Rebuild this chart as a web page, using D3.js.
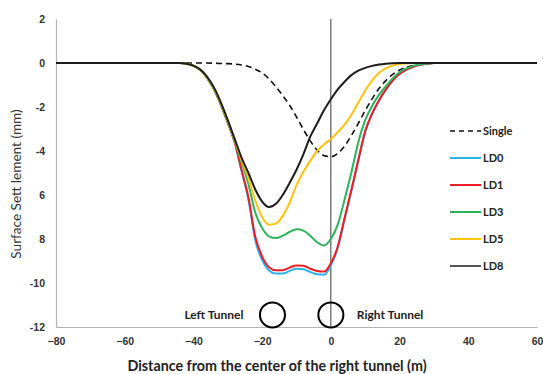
<!DOCTYPE html>
<html>
<head>
<meta charset="utf-8">
<script src="https://cdn.jsdelivr.net/npm/d3@7"></script>
<style>
  html, body { margin: 0; padding: 0; background: #fff; }
  svg { display: block; font-family: Lato, "Open Sans", sans-serif; }
</style>
</head>
<body>
<svg id="chart" width="543" height="374"></svg>
<script>
// Horizontal positions (m from the centre of the right tunnel)
const xs = [-80, -44, -42, -40, -38, -36, -34, -32, -30, -28,
            -26, -24, -22, -20, -18, -16, -14, -12, -10, -8,
            -6, -4, -2, 0, 2, 4, 6, 8, 10, 12,
            14, 16, 18, 20, 22, 24, 26, 28, 30, 60];

// Surface settlement (mm) for each case
const single = [0, 0, 0, 0, 0, 0, -0.01, -0.02, -0.03, -0.05,
                -0.09, -0.16, -0.28, -0.45, -0.72, -1.08, -1.48, -1.92, -2.45, -3.02,
                -3.54, -3.96, -4.21, -4.26, -4.11, -3.77, -3.29, -2.74, -2.16, -1.63,
                -1.16, -0.8, -0.52, -0.32, -0.19, -0.11, -0.06, -0.03, -0.01, 0];
const ld0 = [0, 0, -0.03, -0.13, -0.32, -0.68, -1.2, -1.9, -2.72, -3.6,
             -4.9, -6.2, -8.05, -8.95, -9.43, -9.57, -9.57, -9.45, -9.35, -9.37,
             -9.5, -9.6, -9.62, -9.2, -8.4, -7.1, -5.8, -4.42, -3.12, -2.32,
             -1.71, -1.21, -0.8, -0.5, -0.3, -0.17, -0.08, -0.03, 0, 0];
const ld1 = [0, 0, -0.03, -0.13, -0.32, -0.68, -1.2, -1.9, -2.72, -3.6,
             -4.85, -6.1, -7.9, -8.8, -9.28, -9.42, -9.42, -9.3, -9.2, -9.22,
             -9.35, -9.45, -9.48, -9.1, -8.35, -7.05, -5.75, -4.4, -3.1, -2.3,
             -1.7, -1.2, -0.8, -0.5, -0.3, -0.17, -0.08, -0.03, 0, 0];
const ld3 = [0, 0, -0.03, -0.13, -0.32, -0.68, -1.2, -1.9, -2.7, -3.55,
             -4.5, -5.5, -6.8, -7.5, -7.88, -7.96, -7.85, -7.68, -7.56, -7.62,
             -7.85, -8.15, -8.3, -8.0, -7.35, -6.2, -4.95, -3.6, -2.6, -1.95,
             -1.45, -1.05, -0.7, -0.42, -0.25, -0.13, -0.06, -0.02, 0, 0];
const ld5 = [0, 0, -0.03, -0.12, -0.3, -0.65, -1.15, -1.85, -2.65, -3.5,
             -4.4, -5.25, -6.25, -7.0, -7.35, -7.3, -6.95, -6.35, -5.55, -4.95,
             -4.45, -4.0, -3.7, -3.45, -3.15, -2.8, -2.35, -1.8, -1.25, -0.8,
             -0.45, -0.25, -0.12, -0.05, -0.02, 0, 0, 0, 0, 0];
const ld8 = [0, 0, -0.03, -0.12, -0.3, -0.63, -1.12, -1.8, -2.6, -3.45,
             -4.3, -5.0, -5.75, -6.3, -6.55, -6.4, -6.0, -5.45, -4.85, -4.15,
             -3.35, -2.75, -2.15, -1.65, -1.2, -0.85, -0.55, -0.35, -0.22, -0.13,
             -0.07, -0.03, -0.01, 0, 0, 0, 0, 0, 0, 0];

const seriesNames = ["Single", "LD0", "LD1", "LD3", "LD5", "LD8"];
const seriesValues = [single, ld0, ld1, ld3, ld5, ld8];
const seriesColors = ["#111111", "#2cb2ea", "#ee1d25", "#2fb25c", "#ffc20e", "#1c1c1c"];

// Axis ticks
const xTicks = [-80, -60, -40, -20, 0, 20, 40, 60];
const yTicks = [2, 0, -2, -4, -6, -8, -10, -12];
const yTickLabels = ["2", "0", "-2", "-4", "6", "8", "-10", "-12"];

// Tunnel cross-sections along the ground profile
const tunnelNames = ["Left Tunnel", "Right Tunnel"];
const tunnelX = [-17, 0];
const tunnelDepth = -11.45;

const svg = d3.select("#chart");
const plotL = 56, plotR = 537, plotT = 19, plotB = 327;

const x = d3.scaleLinear().domain([-80, 60]).range([plotL, plotR]);
const y = d3.scaleLinear().domain([-12, 2]).range([plotB, plotT]);

// Axes
const yAxis = d3.axisLeft(y).tickValues(yTicks)
  .tickFormat((d, i) => yTickLabels[i]).tickSize(0).tickPadding(11);
const gy = svg.append("g").attr("transform", `translate(${plotL},0)`).call(yAxis);
gy.select(".domain").attr("stroke", "#b4b4b4").attr("stroke-width", 1.2);
gy.selectAll("text").attr("font-size", 10.5).attr("font-weight", "bold").attr("fill", "#333");

const xAxis = d3.axisBottom(x).tickValues(xTicks).tickSize(0).tickPadding(11);
const gx = svg.append("g").attr("transform", `translate(0,${plotB})`).call(xAxis);
gx.select(".domain").attr("stroke", "#b4b4b4").attr("stroke-width", 1.2);
gx.selectAll("text").attr("font-size", 10.5).attr("font-weight", "bold").attr("fill", "#333");

// Centre line of the right tunnel
svg.append("line")
  .attr("x1", x(0)).attr("x2", x(0))
  .attr("y1", y(2)).attr("y2", y(-12))
  .attr("stroke", "#3a3a3a").attr("stroke-width", 1);

// Settlement troughs
const line = d3.line()
  .x((d, i) => x(xs[i]))
  .y(d => y(d))
  .curve(d3.curveMonotoneX);

seriesValues.forEach((vals, k) => {
  svg.append("path")
    .datum(vals)
    .attr("fill", "none")
    .attr("stroke", seriesColors[k])
    .attr("stroke-width", k === 0 ? 1.6 : 2)
    .attr("stroke-dasharray", k === 0 ? "6,4" : null)
    .attr("stroke-linejoin", "round")
    .attr("d", line);
});

// Legend
const legend = svg.append("g");
seriesNames.forEach((name, k) => {
  const ly = 131 + k * 27;
  legend.append("line")
    .attr("x1", 450).attr("x2", 481).attr("y1", ly).attr("y2", ly)
    .attr("stroke", k === 5 ? "#555" : seriesColors[k])
    .attr("stroke-width", k === 0 ? 1.5 : 2)
    .attr("stroke-dasharray", k === 0 ? "5,4" : null);
  legend.append("text")
    .attr("x", 483).attr("y", ly).attr("dy", "0.35em")
    .attr("font-size", 11).attr("font-weight", "bold").attr("fill", "#222")
    .text(name);
});

// Tunnels
svg.selectAll("circle.tunnel").data(tunnelX).enter().append("circle")
  .attr("class", "tunnel")
  .attr("cx", d => x(d)).attr("cy", y(tunnelDepth)).attr("r", 12.5)
  .attr("fill", "none").attr("stroke", "#000").attr("stroke-width", 2);

svg.append("text")
  .attr("x", x(tunnelX[0]) - 29).attr("y", y(tunnelDepth)).attr("dy", "0.35em")
  .attr("text-anchor", "end").attr("font-size", 12).attr("font-weight", "bold")
  .attr("fill", "#222")
  .text(tunnelNames[0]);
svg.append("text")
  .attr("x", x(tunnelX[1]) + 26).attr("y", y(tunnelDepth)).attr("dy", "0.35em")
  .attr("font-size", 12).attr("font-weight", "bold")
  .attr("fill", "#222")
  .text(tunnelNames[1]);

// Axis titles
svg.append("text")
  .attr("x", 277).attr("y", 371)
  .attr("text-anchor", "middle").attr("font-size", 14.3).attr("font-weight", "bold")
  .attr("fill", "#222")
  .text("Distance from the center of the right tunnel (m)");
svg.append("text")
  .attr("transform", "translate(21,184) rotate(-90)")
  .attr("text-anchor", "middle").attr("font-size", 13.6)
  .attr("fill", "#333")
  .text("Surface Sett lement (mm)");
</script>
</body>
</html>
